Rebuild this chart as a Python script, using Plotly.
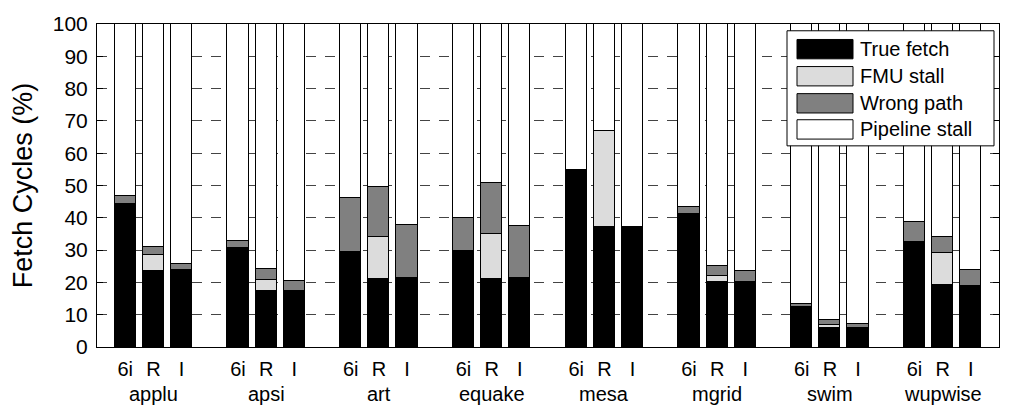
import plotly.graph_objects as go

benchmarks = ["applu", "apsi", "art", "equake", "mesa", "mgrid", "swim", "wupwise"]
configs = ["6i", "R", "I"]

# values per bar, ordered benchmark by benchmark, config 6i / R / I
true_fetch = [44.2, 23.6, 23.9, 30.7, 17.3, 17.4, 29.5, 21.1, 21.3, 29.8, 20.9, 21.3,
              54.8, 37.0, 37.0, 41.2, 20.1, 20.1, 12.4, 5.8, 5.8, 32.5, 19.1, 19.0]
fmu_stall = [0.0, 4.9, 0.0, 0.0, 3.5, 0.0, 0.0, 12.9, 0.0, 0.0, 14.1, 0.0,
             0.0, 30.0, 0.0, 0.0, 2.0, 0.0, 0.0, 1.1, 0.0, 0.0, 9.9, 0.0]
wrong_path = [2.5, 2.5, 1.8, 2.1, 3.4, 2.9, 16.5, 15.5, 16.4, 10.2, 15.7, 16.2,
              0.0, 0.0, 0.0, 2.1, 3.0, 3.3, 0.9, 1.4, 1.3, 6.2, 5.0, 4.9]
pipeline_stall = [53.3, 69.0, 74.3, 67.2, 75.8, 79.7, 54.0, 50.5, 62.3, 60.0, 49.3, 62.5,
                  45.2, 33.0, 63.0, 56.7, 74.9, 76.6, 86.7, 91.7, 92.9, 61.3, 66.0, 76.1]
yticks = list(range(0, 101, 10))

series = [("True fetch", true_fetch, "#000000"),
          ("FMU stall", fmu_stall, "#dcdcdc"),
          ("Wrong path", wrong_path, "#808080"),
          ("Pipeline stall", pipeline_stall, "#ffffff")]

# bar slots: 3 bars per benchmark + one empty slot between groups
xpos = [4 * g + b + 1 for g in range(len(benchmarks)) for b in range(len(configs))]
xlabels = [c for _ in benchmarks for c in configs]

FONT = "Liberation Sans, Arial, Helvetica, sans-serif"

fig = go.Figure()
for name, vals, col in series:
    fig.add_trace(go.Bar(x=xpos, y=vals, name=name, width=0.75,
                         marker=dict(color=col, line=dict(color="#000000", width=1)),
                         showlegend=False))

W, H = 1012, 408
L, R, T, B = 97, 13, 13, 61
pw, ph = W - L - R, H - T - B

def px(x):
    return (x - L) / pw

def py(y):
    return (H - B - y) / ph

fig.update_layout(
    width=W, height=H, barmode="stack", bargap=0,
    margin=dict(l=L, r=R, t=T, b=B),
    plot_bgcolor="white", paper_bgcolor="white",
    font=dict(family=FONT, color="#000000"),
    xaxis=dict(range=[0, 32], tickvals=xpos, ticktext=xlabels, showline=True,
               linecolor="#000000", linewidth=1, mirror=True, ticks="",
               showgrid=False, zeroline=False, tickfont=dict(size=20),
               ticklabelstandoff=4),
    yaxis=dict(range=[0, 100], tickvals=yticks, showline=True, linecolor="#000000",
               linewidth=1, mirror="ticks", ticks="inside", ticklen=6,
               tickcolor="#000000", showgrid=True, gridcolor="#444444",
               griddash="10px,9px", gridwidth=1, zeroline=False,
               tickfont=dict(size=21), ticklabelstandoff=4,
               title=dict(text="Fetch Cycles (%)", font=dict(size=27), standoff=12)),
)

# group names below the config labels
for g, name in enumerate(benchmarks):
    fig.add_annotation(x=4 * g + 2, y=py(396), xref="x", yref="paper", text=name,
                       showarrow=False, font=dict(size=20, family=FONT),
                       xanchor="center", yanchor="middle")

# legend box drawn by hand to get MATLAB-style swatches
fig.add_shape(type="rect", xref="paper", yref="paper", x0=px(787), x1=px(994),
              y0=py(139), y1=py(20), fillcolor="white",
              line=dict(color="#000000", width=1), layer="above")
centers = [39, 67, 95, 122]
for (name, _, col), cy in zip(series, centers):
    fig.add_shape(type="rect", xref="paper", yref="paper", x0=px(797), x1=px(853),
                  y0=py(cy + 10), y1=py(cy - 10), fillcolor=col,
                  line=dict(color="#000000", width=1), layer="above")
    fig.add_annotation(x=px(858), y=py(cy), xref="paper", yref="paper", text=name,
                       showarrow=False, font=dict(size=20, family=FONT),
                       xanchor="left", yanchor="middle")

fig.write_html("out.html")
